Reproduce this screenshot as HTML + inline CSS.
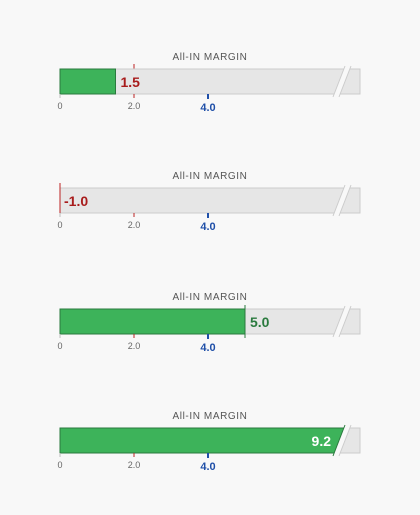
<!DOCTYPE html>
<html><head><meta charset="utf-8"><style>
body{margin:0;background:#f8f8f8;width:420px;height:515px;overflow:hidden;font-family:"Liberation Sans",sans-serif}
svg{position:absolute;left:0;top:0}
</style></head><body>
<svg id="c" width="420" height="515"></svg>
<script>
const values=[1.5,-1.0,5.0,9.2];
const titles=["All-IN MARGIN","All-IN MARGIN","All-IN MARGIN","All-IN MARGIN"];
const tickValues=[0,2.0,4.0];
const tickLabels=["0","2.0","4.0"];
const threshold=2.0, target=4.0;
const panelTops=[69,188,309,428];
const NS="http://www.w3.org/2000/svg";
const svg=document.getElementById('c');
const x0=60,x1=360,pxPer=37.0,bh=25;
const xs=v=>x0+v*pxPer;
function el(t,a,p){const e=document.createElementNS(NS,t);for(const k in a)e.setAttribute(k,a[k]);(p||svg).appendChild(e);return e;}
values.forEach((v,i)=>{
  const y=panelTops[i];
  const g=el('g',{});
  
  
  const t=el('text',{x:210,y:y-9,'text-anchor':'middle','font-size':10,fill:'#555','letter-spacing':'0.6'},g);
  t.textContent=titles[i];
  
  
  if(v>0&&v<threshold){
    const th=el('line',{x1:xs(threshold),x2:xs(threshold),y1:y-5,y2:y+bh,stroke:'#b22',"stroke-width":1},g);
    
    
  }
  const bg=el('rect',{x:x0,y:y,width:x1-x0,height:bh,fill:'#e6e6e6',stroke:'#ccc'},g);
  
  
  const bl=335; // break left-bottom
  let labelColor,labelX,anchor='start';
  let clipped=false;
  if(v>0){
    const end=xs(v);
    let bar;
    if(end<bl-4){
      bar=el('rect',{x:x0,y:y,width:end-x0,height:bh,fill:'#3db35a',stroke:'#2a7a3e'},g);
    }else{
      clipped=true;
      bar=el('polygon',{points:`${x0},${y} ${bl+9},${y} ${bl},${y+bh} ${x0},${y+bh}`,fill:'#3db35a',stroke:'#2a7a3e'},g);
    }
    
    
    if(clipped){labelColor='#fff';labelX=bl-4;anchor='end';}
    else if(v>=target){labelColor='#2a7a3e';labelX=end+5;
      const m=el('line',{x1:end,x2:end,y1:y-4,y2:y+bh+4,stroke:'#2a7a3e'},g);
      }
    else{labelColor='#a81c1c';labelX=end+5;}
  }else{
    const m=el('line',{x1:x0,x2:x0,y1:y-5,y2:y+bh+3,stroke:'#b22'},g);
    
    labelColor='#a81c1c';labelX=x0+4;
  }
  const bk=el('polygon',{points:`${bl-2},${y+bh+3} ${bl+4},${y+bh+3} ${bl+16},${y-3} ${bl+10},${y-3}`,fill:'#f8f8f8'},g);
  
  el('line',{x1:bl-2,y1:y+bh+3,x2:bl+10,y2:y-3,stroke:clipped?'#2a7a3e':'#ccc'},g);
  el('line',{x1:bl+4,y1:y+bh+3,x2:bl+16,y2:y-3,stroke:'#ccc'},g);
  const lb=el('text',{x:labelX,y:y+18,'text-anchor':anchor,'font-size':14,'font-weight':'bold',fill:labelColor},g);
  lb.textContent=v.toFixed(1);
  
  
  tickValues.forEach((tv,j)=>{
    const isT=tv===target;
    const tk=el('line',{x1:xs(tv),x2:xs(tv),y1:y+bh,y2:y+bh+(isT?5:4),stroke:isT?'#1f4fa8':(tv===threshold?'#b22':'#bbb'),'stroke-width':isT?2:1},g);
    
    const tl=el('text',{x:xs(tv),y:y+bh+(isT?17:15),'text-anchor':'middle','font-size':isT?11:9,'font-weight':isT?'bold':'normal',fill:isT?'#1f4fa8':'#666'},g);
    tl.textContent=tickLabels[j];
    
    
  });
});
</script>
</body></html>
